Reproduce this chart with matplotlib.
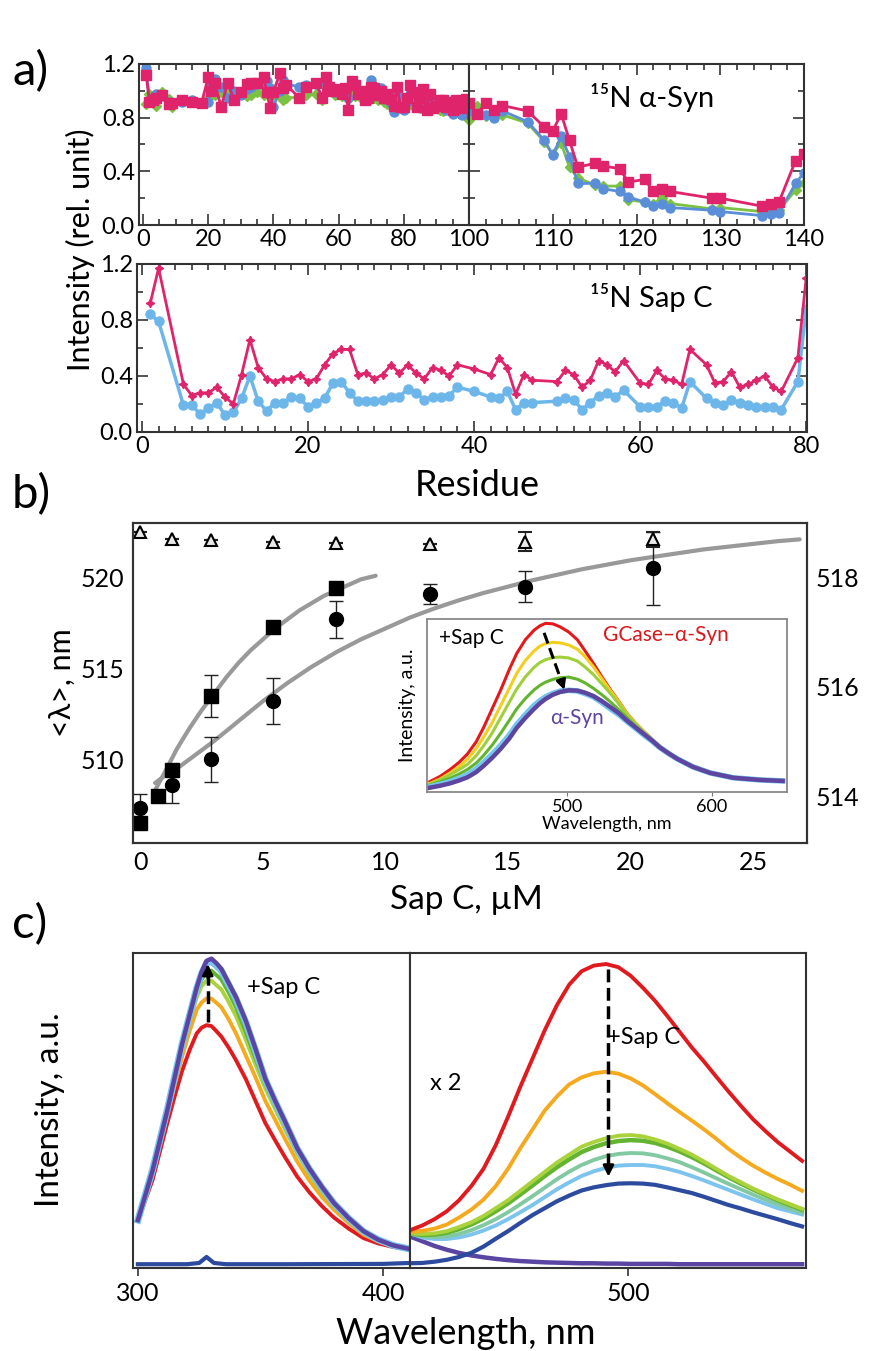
import matplotlib
matplotlib.use('Agg')
import matplotlib.pyplot as plt
from matplotlib.ticker import MultipleLocator, FormatStrFormatter

plt.rcParams['font.family'] = ['Lato', 'DejaVu Sans']

# ---------------- a) 15N alpha-Syn intensities ----------------
res_syn = [1, 2, 3, 4, 6, 8, 9, 12, 15, 18,
           20, 21, 22, 24, 26, 28, 30, 32, 33, 35,
           37, 38, 39, 40, 42, 43, 44, 48, 50, 53,
           55, 56, 57, 58, 59, 61, 62, 63, 64, 65,
           66, 67, 68, 69, 70, 71, 72, 73, 74, 75,
           76, 77, 78, 79, 80, 81, 82, 83, 84, 85,
           86, 87, 88, 89, 90, 91, 92, 93, 94, 95,
           96, 97, 98,
           99, 100, 101, 102, 103, 104, 107, 109, 110, 111,
           112, 113, 115, 116, 118, 119, 121, 122, 123, 124,
           129, 130, 135, 136, 137, 139, 140]
syn_blue = [1.17, 0.92, 0.95, 0.98, 0.96, 0.92, 0.90, 0.92, 0.93, 0.91,
            0.92, 1.04, 1.09, 1.03, 0.95, 1.00, 0.97, 1.01, 1.03, 1.05,
            1.04, 1.07, 1.02, 0.88, 1.00, 1.08, 1.05, 1.03, 1.04, 1.05,
            0.95, 1.06, 1.02, 1.02, 0.99, 0.98, 1.00, 0.95, 1.07, 1.05,
            1.00, 0.98, 0.95, 0.93, 1.08, 1.00, 0.97, 1.02, 0.94, 0.96,
            0.91, 0.84, 0.96, 0.88, 0.86, 0.92, 0.98, 0.96, 0.90, 0.92,
            0.96, 0.86, 0.95, 0.89, 0.88, 0.90, 0.91, 0.86, 0.89, 0.83,
            0.90, 0.88, 0.82,
            0.88, 0.85, 0.83, 0.82, 0.80, 0.85, 0.77, 0.63, 0.52, 0.66,
            0.51, 0.31, 0.31, 0.27, 0.25, 0.21, 0.17, 0.14, 0.16, 0.13,
            0.11, 0.10, 0.07, 0.08, 0.09, 0.31, 0.39]
syn_green = [0.90, 0.98, 0.93, 0.89, 0.99, 0.94, 0.88, 0.93, 0.92, 0.91,
             0.95, 0.98, 0.97, 0.99, 1.00, 0.97, 0.98, 0.96, 0.97, 0.99,
             0.97, 1.00, 0.98, 0.97, 0.96, 0.93, 0.95, 0.95, 0.97, 0.98,
             0.93, 1.03, 1.00, 0.99, 0.97, 0.96, 0.99, 0.98, 0.97, 0.96,
             0.99, 0.95, 0.94, 0.96, 0.98, 0.95, 0.93, 0.94, 0.92, 0.90,
             0.93, 0.89, 0.92, 0.90, 0.88, 0.91, 0.90, 0.88, 0.89, 0.87,
             0.89, 0.86, 0.88, 0.90, 0.87, 0.86, 0.85, 0.88, 0.86, 0.87,
             0.84, 0.89, 0.90,
             0.83, 0.78, 0.89, 0.81, 0.81, 0.82, 0.76, 0.62, 0.53, 0.61,
             0.43, 0.35, 0.30, 0.29, 0.29, 0.19, 0.17, 0.16, 0.20, 0.16,
             0.12, 0.13, 0.10, 0.11, 0.11, 0.26, 0.31]
syn_magenta = [1.12, 0.92, 0.93, 0.95, 0.97, 0.90, 0.91, 0.93, 0.92, 0.91,
               1.10, 1.00, 1.06, 0.88, 1.06, 0.93, 0.99, 1.05, 1.06, 1.06,
               1.10, 0.99, 0.87, 0.99, 1.13, 1.02, 1.04, 0.95, 1.03, 1.06,
               0.95, 1.10, 1.03, 1.00, 1.01, 0.98, 1.02, 0.86, 1.07, 1.04,
               0.98, 1.00, 0.93, 0.95, 1.03, 1.02, 0.97, 1.00, 0.95, 0.98,
               0.94, 0.89, 1.03, 0.88, 0.88, 0.95, 1.04, 0.99, 0.88, 0.95,
               1.01, 0.86, 0.98, 0.87, 0.89, 0.93, 0.93, 0.88, 0.92, 0.86,
               0.93, 0.90, 0.87,
               0.94, 0.91, 0.83, 0.91, 0.86, 0.89, 0.85, 0.73, 0.70, 0.83,
               0.63, 0.43, 0.46, 0.44, 0.42, 0.32, 0.34, 0.25, 0.27, 0.25,
               0.20, 0.20, 0.14, 0.16, 0.17, 0.48, 0.53]

# ---------------- a) 15N Sap C intensities ----------------
res_sap = [1, 2, 5, 6, 7, 8, 9, 10, 11, 12,
           13, 14, 15, 16, 17, 18, 19, 20, 21, 22,
           23, 24, 25, 26, 27, 28, 29, 30, 31, 32,
           33, 34, 35, 36, 37, 38, 40, 42, 43, 44,
           45, 46, 47, 50, 51, 52, 53, 54, 55, 56,
           57, 58, 60, 61, 62, 63, 64, 65, 66, 68,
           69, 70, 71, 72, 73, 74, 75, 76, 77, 79, 80]
sap_magenta = [0.92, 1.17, 0.34, 0.26, 0.28, 0.28, 0.32, 0.25, 0.20, 0.41,
               0.66, 0.46, 0.38, 0.36, 0.38, 0.38, 0.41, 0.36, 0.38, 0.48,
               0.56, 0.59, 0.59, 0.41, 0.42, 0.38, 0.41, 0.48, 0.42, 0.48,
               0.42, 0.38, 0.46, 0.44, 0.40, 0.48, 0.45, 0.41, 0.53, 0.46,
               0.27, 0.41, 0.37, 0.36, 0.44, 0.41, 0.32, 0.37, 0.51, 0.48,
               0.43, 0.51, 0.35, 0.34, 0.44, 0.38, 0.37, 0.34, 0.59, 0.48,
               0.35, 0.36, 0.43, 0.32, 0.34, 0.37, 0.40, 0.32, 0.29, 0.53, 1.10]
sap_blue = [0.84, 0.79, 0.19, 0.19, 0.13, 0.17, 0.21, 0.12, 0.14, 0.24,
            0.40, 0.22, 0.15, 0.21, 0.21, 0.25, 0.24, 0.18, 0.21, 0.24,
            0.35, 0.36, 0.28, 0.22, 0.22, 0.22, 0.23, 0.25, 0.25, 0.31,
            0.28, 0.23, 0.25, 0.25, 0.26, 0.32, 0.29, 0.25, 0.24, 0.29,
            0.16, 0.21, 0.21, 0.22, 0.24, 0.23, 0.16, 0.21, 0.26, 0.28,
            0.25, 0.30, 0.18, 0.18, 0.18, 0.22, 0.21, 0.17, 0.36, 0.24,
            0.21, 0.19, 0.23, 0.21, 0.19, 0.18, 0.18, 0.18, 0.16, 0.36, 0.88]

# ---------------- b) mean wavelength vs Sap C ----------------
conc_sq = [0, 0.7, 1.3, 2.9, 5.4, 8.0]
lam_sq = [506.5, 508.0, 509.4, 513.5, 517.3, 519.4]
err_sq = [0, 0, 0, 1.15, 0, 0]
conc_ci = [0, 1.3, 2.9, 5.4, 8.0, 11.8, 15.7, 20.9]
lam_ci = [507.3, 508.6, 510.0, 513.2, 517.7, 519.1, 519.5, 520.5]
err_ci = [0.8, 1.0, 1.25, 1.25, 1.0, 0.55, 0.85, 2.0]
conc_tr = [0, 1.3, 2.9, 5.4, 8.0, 11.8, 15.7, 20.9]
lam_tr = [518.83, 518.70, 518.68, 518.66, 518.64, 518.62, 518.66, 518.70]
err_tr = [0, 0, 0, 0, 0, 0, 0.18, 0.14]
fit_sq_x = [0.6, 1.0, 1.5, 2.0, 2.5, 3.0, 3.5, 4.0, 4.5, 5.0,
            5.5, 6.0, 6.5, 7.0, 7.5, 8.0, 8.5, 9.0, 9.6]
fit_sq_y = [508.3, 509.3, 510.6, 511.7, 512.7, 513.6, 514.5, 515.3, 516.0, 516.6,
            517.2, 517.7, 518.2, 518.6, 519.0, 519.3, 519.6, 519.9, 520.1]
fit_ci_x = [0.6, 1.0, 1.5, 2.0, 2.5, 3.0, 3.5, 4.0, 5.0, 6.0,
            7.0, 8.0, 9.0, 10.0, 11.0, 12.0, 13.0, 14.0, 15.0, 16.0,
            17.0, 18.0, 19.0, 20.0, 21.0, 22.0, 23.0, 24.0, 25.0, 26.0, 26.9]
fit_ci_y = [508.7, 509.1, 509.5, 510.0, 510.5, 511.0, 511.55, 512.1, 513.2, 514.2,
            515.1, 515.9, 516.6, 517.2, 517.8, 518.3, 518.75, 519.15, 519.5, 519.85,
            520.15, 520.45, 520.7, 520.95, 521.15, 521.35, 521.55, 521.7, 521.85, 522.0, 522.1]

# inset spectra (normalised intensity)
wl_in = [405, 412, 419, 425, 431, 437, 442, 448, 454, 460,
         465, 471, 477, 481, 485, 490, 495, 501, 507, 512,
         518, 524, 530, 536, 541, 547, 553, 559, 564, 570,
         576, 587, 599, 615, 633, 649]
in_red = [0.06, 0.09, 0.13, 0.17, 0.22, 0.29, 0.37, 0.48, 0.59, 0.71,
          0.80, 0.88, 0.935, 0.96, 0.975, 0.972, 0.955, 0.925, 0.88, 0.82,
          0.745, 0.665, 0.59, 0.52, 0.458, 0.40, 0.35, 0.303, 0.265, 0.228,
          0.195, 0.147, 0.11, 0.082, 0.07, 0.064]
in_yellow = [0.05, 0.075, 0.11, 0.145, 0.19, 0.25, 0.315, 0.40, 0.50, 0.60,
             0.685, 0.76, 0.815, 0.843, 0.858, 0.865, 0.862, 0.85, 0.825, 0.785,
             0.725, 0.655, 0.585, 0.518, 0.456, 0.40, 0.35, 0.303, 0.265, 0.228,
             0.195, 0.147, 0.11, 0.082, 0.07, 0.064]
in_lgreen = [0.045, 0.07, 0.10, 0.128, 0.16, 0.21, 0.265, 0.34, 0.43, 0.52,
             0.595, 0.665, 0.72, 0.748, 0.765, 0.777, 0.78, 0.775, 0.757, 0.725,
             0.68, 0.625, 0.568, 0.506, 0.448, 0.395, 0.347, 0.302, 0.264, 0.228,
             0.195, 0.147, 0.11, 0.082, 0.07, 0.064]
in_green = [0.04, 0.058, 0.08, 0.103, 0.13, 0.167, 0.21, 0.27, 0.34, 0.415,
            0.48, 0.54, 0.59, 0.616, 0.635, 0.651, 0.66, 0.664, 0.652, 0.632,
            0.60, 0.562, 0.52, 0.473, 0.43, 0.383, 0.34, 0.298, 0.262, 0.227,
            0.195, 0.147, 0.11, 0.082, 0.07, 0.064]
in_lblue = [0.03, 0.044, 0.06, 0.078, 0.10, 0.133, 0.17, 0.218, 0.27, 0.33,
            0.39, 0.447, 0.50, 0.527, 0.55, 0.57, 0.583, 0.588, 0.584, 0.57,
            0.55, 0.517, 0.48, 0.445, 0.41, 0.37, 0.33, 0.292, 0.257, 0.223,
            0.192, 0.145, 0.11, 0.082, 0.07, 0.064]
in_purple = [0.025, 0.036, 0.05, 0.066, 0.085, 0.115, 0.15, 0.197, 0.25, 0.31,
             0.37, 0.428, 0.48, 0.512, 0.538, 0.562, 0.578, 0.588, 0.586, 0.575,
             0.555, 0.525, 0.49, 0.453, 0.415, 0.375, 0.335, 0.295, 0.258, 0.224,
             0.192, 0.145, 0.11, 0.082, 0.07, 0.064]

# ---------------- c) emission spectra ----------------
wl_c1 = [300, 303, 306, 309, 312, 315, 318, 321, 324, 326,
         328, 330, 332, 334, 337, 340, 344, 348, 352, 356,
         360, 365, 370, 375, 380, 386, 392, 398, 404, 411]
c1_red = [0.15, 0.215, 0.28, 0.37, 0.46, 0.545, 0.625, 0.69, 0.745, 0.763,
          0.771, 0.768, 0.752, 0.735, 0.70, 0.66, 0.60, 0.53, 0.46, 0.405,
          0.352, 0.29, 0.24, 0.197, 0.16, 0.125, 0.095, 0.078, 0.067, 0.058]
c1_orange = [0.15, 0.225, 0.30, 0.395, 0.49, 0.58, 0.67, 0.75, 0.82, 0.843,
             0.856, 0.855, 0.842, 0.828, 0.79, 0.745, 0.675, 0.605, 0.53, 0.47,
             0.41, 0.338, 0.277, 0.226, 0.185, 0.143, 0.106, 0.085, 0.07, 0.058]
c1_ygreen = [0.152, 0.228, 0.305, 0.40, 0.495, 0.592, 0.69, 0.78, 0.86, 0.895,
             0.912, 0.912, 0.898, 0.885, 0.845, 0.80, 0.725, 0.645, 0.57, 0.505,
             0.44, 0.364, 0.298, 0.243, 0.196, 0.151, 0.111, 0.088, 0.072, 0.059]
c1_green = [0.152, 0.23, 0.308, 0.404, 0.50, 0.60, 0.70, 0.79, 0.875, 0.915,
            0.942, 0.944, 0.93, 0.916, 0.875, 0.828, 0.75, 0.665, 0.585, 0.518,
            0.452, 0.372, 0.305, 0.249, 0.201, 0.155, 0.114, 0.089, 0.072, 0.06]
c1_lblue = [0.152, 0.232, 0.312, 0.408, 0.503, 0.607, 0.71, 0.80, 0.888, 0.935,
            0.968, 0.973, 0.96, 0.944, 0.90, 0.855, 0.78, 0.69, 0.597, 0.528,
            0.462, 0.378, 0.313, 0.256, 0.205, 0.157, 0.116, 0.09, 0.072, 0.06]
c1_purple = [0.152, 0.23, 0.31, 0.405, 0.50, 0.605, 0.71, 0.80, 0.89, 0.94,
             0.975, 0.982, 0.968, 0.95, 0.905, 0.86, 0.785, 0.695, 0.60, 0.53,
             0.465, 0.38, 0.315, 0.258, 0.206, 0.158, 0.117, 0.09, 0.072, 0.06]
wl_base = [300, 320, 325, 328, 331, 336, 360, 400, 411]
c1_dblue = [0.012, 0.012, 0.016, 0.035, 0.016, 0.012, 0.012, 0.013, 0.016]

wl_c2 = [411, 416, 421, 426, 431, 436, 441, 446, 451, 456,
         461, 466, 471, 476, 481, 486, 491, 496, 501, 506,
         511, 516, 521, 526, 531, 536, 541, 546, 551, 556,
         561, 566, 571]
c2_red = [0.12, 0.135, 0.155, 0.18, 0.215, 0.26, 0.315, 0.39, 0.48, 0.575,
          0.665, 0.755, 0.835, 0.90, 0.942, 0.96, 0.965, 0.955, 0.928, 0.89,
          0.848, 0.80, 0.75, 0.70, 0.655, 0.607, 0.56, 0.515, 0.472, 0.435,
          0.40, 0.37, 0.34]
c2_orange = [0.115, 0.118, 0.125, 0.138, 0.16, 0.185, 0.217, 0.26, 0.315, 0.38,
             0.44, 0.50, 0.545, 0.583, 0.605, 0.618, 0.623, 0.617, 0.602, 0.58,
             0.552, 0.523, 0.495, 0.468, 0.44, 0.41, 0.378, 0.35, 0.325, 0.303,
             0.283, 0.265, 0.245]
c2_ygreen = [0.11, 0.108, 0.11, 0.117, 0.13, 0.145, 0.165, 0.19, 0.215, 0.245,
             0.275, 0.305, 0.335, 0.36, 0.385, 0.40, 0.412, 0.42, 0.422, 0.418,
             0.408, 0.395, 0.378, 0.36, 0.338, 0.315, 0.292, 0.272, 0.252, 0.235,
             0.218, 0.203, 0.188]
c2_green = [0.11, 0.105, 0.106, 0.112, 0.123, 0.138, 0.157, 0.18, 0.205, 0.233,
            0.262, 0.292, 0.32, 0.345, 0.368, 0.384, 0.396, 0.403, 0.406, 0.404,
            0.397, 0.385, 0.37, 0.352, 0.332, 0.31, 0.288, 0.268, 0.249, 0.232,
            0.215, 0.20, 0.185]
c2_teal = [0.11, 0.10, 0.098, 0.10, 0.108, 0.12, 0.136, 0.155, 0.177, 0.202,
           0.228, 0.255, 0.282, 0.306, 0.327, 0.343, 0.355, 0.362, 0.365, 0.364,
           0.358, 0.348, 0.336, 0.32, 0.303, 0.285, 0.267, 0.25, 0.233, 0.217,
           0.202, 0.188, 0.175]
c2_lblue = [0.11, 0.097, 0.092, 0.092, 0.097, 0.106, 0.119, 0.135, 0.155, 0.177,
            0.20, 0.225, 0.25, 0.272, 0.292, 0.307, 0.318, 0.325, 0.327, 0.327,
            0.323, 0.315, 0.305, 0.292, 0.278, 0.263, 0.248, 0.233, 0.218, 0.204,
            0.19, 0.18, 0.17]
c2_dblue = [0.015, 0.016, 0.02, 0.026, 0.035, 0.048, 0.068, 0.093, 0.117, 0.143,
            0.168, 0.19, 0.212, 0.23, 0.246, 0.256, 0.263, 0.268, 0.269, 0.268,
            0.264, 0.256, 0.247, 0.238, 0.226, 0.213, 0.20, 0.189, 0.177, 0.166,
            0.155, 0.143, 0.132]
c2_purple = [0.10, 0.085, 0.07, 0.058, 0.048, 0.04, 0.034, 0.029, 0.025, 0.022,
             0.02, 0.018, 0.017, 0.016, 0.015, 0.015, 0.014, 0.014, 0.013, 0.013,
             0.013, 0.013, 0.012, 0.012, 0.012, 0.012, 0.012, 0.012, 0.012, 0.012,
             0.012, 0.012, 0.012]

MAG = '#e0246c'
BLUE = '#5a8ed8'
GREEN = '#7cc242'
SKY = '#6db6ea'
EDGE = '#333333'

W, H = 872.0, 1351.0


def box(x0, y0, x1, y1):
    return [x0 / W, 1 - y1 / H, (x1 - x0) / W, (y1 - y0) / H]


def frame(ax, color=EDGE, lw=1.5):
    for s in ax.spines.values():
        s.set_color(color)
        s.set_linewidth(lw)


fig = plt.figure(figsize=(8.72, 13.51), dpi=100)

# ---- panel a ----
ax1 = fig.add_axes(box(139, 64, 469, 225))
ax2 = fig.add_axes(box(469, 64, 804, 225))
ax3 = fig.add_axes(box(137, 264, 807, 432))

for ax in (ax1, ax2):
    ax.plot(res_syn, syn_green, '-D', color=GREEN, ms=5.5, lw=2)
    ax.plot(res_syn, syn_blue, '-o', color=BLUE, ms=6.5, lw=2)
    ax.plot(res_syn, syn_magenta, '-s', color=MAG, ms=6.5, lw=2)
ax3.plot(res_sap, sap_blue, '-o', color=SKY, ms=6.5, lw=2.5)
ax3.plot(res_sap, sap_magenta, '-', color=MAG, lw=2, marker=(4, 1, 0), ms=6)

ax1.set_xlim(-1.2, 100)
ax1.xaxis.set_major_locator(MultipleLocator(20))
ax1.xaxis.set_minor_locator(MultipleLocator(5))
ax2.set_xlim(100, 140)
ax2.set_xticks([100, 110, 120, 130, 140], ['', '110', '120', '130', '140'])
ax2.xaxis.set_minor_locator(MultipleLocator(2))
ax3.set_xlim(-0.6, 80.1)
ax3.xaxis.set_major_locator(MultipleLocator(20))
ax3.xaxis.set_minor_locator(MultipleLocator(2))

for ax in (ax1, ax2, ax3):
    ax.set_ylim(0, 1.2)
    ax.yaxis.set_major_locator(MultipleLocator(0.4))
    ax.yaxis.set_minor_locator(MultipleLocator(0.2))
    ax.yaxis.set_major_formatter(FormatStrFormatter('%.1f'))
    ax.tick_params(which='both', direction='in', top=True, right=True,
                   width=1.2, color=EDGE, labelsize=17, pad=3)
    ax.tick_params(which='major', length=8)
    ax.tick_params(which='minor', length=4)
    frame(ax)
ax2.tick_params(labelleft=False)

fig.text(590 / W, 1 - 97 / H, '¹⁵N α-Syn', fontsize=21, va='center')
fig.text(590 / W, 1 - 297 / H, '¹⁵N Sap C', fontsize=21, va='center')
fig.text(80 / W, 1 - 250 / H, 'Intensity (rel. unit)', rotation=90,
         fontsize=22, ha='center', va='center')
fig.text(477 / W, 1 - 485 / H, 'Residue', fontsize=26, ha='center', va='center')
fig.text(12 / W, 1 - 72 / H, 'a)', fontsize=34, va='center')

# ---- panel b ----
axb = fig.add_axes(box(133, 523, 807, 843))
axb.plot(fit_sq_x, fit_sq_y, color='#999999', lw=3, solid_capstyle='round')
axb.plot(fit_ci_x, fit_ci_y, color='#999999', lw=3, solid_capstyle='round')
axb.errorbar(conc_ci, lam_ci, yerr=err_ci, fmt='o', color='black', ms=10,
             ecolor='#222222', elinewidth=1, capsize=5)
axb.errorbar(conc_sq, lam_sq, yerr=err_sq, fmt='s', color='black', ms=10,
             ecolor='#222222', elinewidth=1, capsize=5)
axb.set_xlim(-0.3, 27.2)
axb.set_ylim(505.4, 523)
axb.set_xticks([0, 5, 10, 15, 20, 25])
axb.set_yticks([510, 515, 520])
axb.tick_params(length=0, labelsize=18, pad=6)
frame(axb)

axb2 = axb.twinx()
axb2.errorbar(conc_tr, lam_tr, yerr=err_tr, fmt='^', mfc='#e8e8e8', mec='black',
              mew=1.5, ms=9, ecolor='#222222', elinewidth=1, capsize=5)
axb2.set_ylim(513.14, 519.0)
axb2.set_yticks([514, 516, 518])
axb2.tick_params(length=0, labelsize=18, pad=6)
frame(axb2)

fig.text(62 / W, 1 - 683 / H, '<λ>, nm', rotation=90, fontsize=22,
         ha='center', va='center')
fig.text(466 / W, 1 - 900 / H, 'Sap C, µM', fontsize=24, ha='center', va='center')
fig.text(12 / W, 1 - 495 / H, 'b)', fontsize=34, va='center')

# inset
axi = fig.add_axes(box(427, 619, 787, 792))
axi.plot(wl_in, in_red, color='#e3191c', lw=2.2)
axi.plot(wl_in, in_yellow, color='#f2cf1d', lw=2.2)
axi.plot(wl_in, in_lgreen, color='#9fcf3a', lw=2.2)
axi.plot(wl_in, in_green, color='#63b42e', lw=2.2)
axi.plot(wl_in, in_lblue, color='#74c6ee', lw=4)
axi.plot(wl_in, in_purple, color='#5d45a0', lw=3.2)
axi.set_xlim(403, 652)
axi.set_ylim(0, 1.0)
axi.set_yticks([])
axi.set_xticks([500, 600])
axi.tick_params(labelsize=13, length=3, color='#777777', pad=2)
frame(axi, '#888888', 1.3)
axi.set_xlabel('Wavelength, nm', fontsize=13, labelpad=1)
axi.set_ylabel('Intensity, a.u.', fontsize=14, labelpad=8)
axi.plot([484, 496], [0.92, 0.64], ls='--', color='black', lw=2.2)
axi.annotate('', xy=(498, 0.59), xytext=(496, 0.64),
             arrowprops=dict(arrowstyle='-|>', color='black', lw=2,
                             mutation_scale=14, shrinkA=0, shrinkB=0))
axi.text(411, 0.89, '+Sap C', fontsize=15, va='center')
axi.text(525, 0.905, 'GCase–α-Syn', fontsize=15, va='center', color='#d7191c')
axi.text(488, 0.43, 'α-Syn', fontsize=15, va='center', color='#5d45a0')

# ---- panel c ----
axc1 = fig.add_axes(box(133, 953, 410, 1268))
axc2 = fig.add_axes(box(410, 953, 806, 1268))

axc1.plot(wl_base, c1_dblue, color='#2c4a9e', lw=3)
axc1.plot(wl_c1, c1_red, color='#e01b1f', lw=2.8)
axc1.plot(wl_c1, c1_orange, color='#f4a91e', lw=2.8)
axc1.plot(wl_c1, c1_ygreen, color='#a9d23c', lw=2.8)
axc1.plot(wl_c1, c1_green, color='#63b430', lw=2.8)
axc1.plot(wl_c1, c1_lblue, color='#7cc4ee', lw=5)
axc1.plot(wl_c1, c1_purple, color='#5a45a2', lw=3.2)

axc2.plot(wl_c2, c2_purple, color='#5a45a2', lw=3.2)
axc2.plot(wl_c2, c2_dblue, color='#2c4a9e', lw=3)
axc2.plot(wl_c2, c2_lblue, color='#7cc4ee', lw=2.8)
axc2.plot(wl_c2, c2_teal, color='#82c9a2', lw=2.8)
axc2.plot(wl_c2, c2_green, color='#63b430', lw=3.2)
axc2.plot(wl_c2, c2_ygreen, color='#a9d23c', lw=2.8)
axc2.plot(wl_c2, c2_orange, color='#f4a91e', lw=2.8)
axc2.plot(wl_c2, c2_red, color='#e01b1f', lw=2.8)

axc1.set_xlim(298, 411)
axc2.set_xlim(411, 572.6)
axc1.set_xticks([300, 400])
axc2.set_xticks([500])
for ax in (axc1, axc2):
    ax.set_ylim(0, 1.0)
    ax.set_yticks([])
    ax.tick_params(direction='out', length=6, width=1.2, color=EDGE,
                   labelsize=18, pad=4)
    frame(ax)

axc1.plot([328.5, 328.5], [0.78, 0.93], ls='--', color='black', lw=2.5)
axc1.annotate('', xy=(328.5, 0.965), xytext=(328.5, 0.92),
              arrowprops=dict(arrowstyle='-|>', color='black', lw=2,
                              mutation_scale=16, shrinkA=0, shrinkB=0))
axc1.text(344.5, 0.892, '+Sap C', fontsize=17, va='center')

axc2.plot([492, 492], [0.95, 0.33], ls='--', color='black', lw=2.5)
axc2.annotate('', xy=(492, 0.29), xytext=(492, 0.34),
              arrowprops=dict(arrowstyle='-|>', color='black', lw=2,
                              mutation_scale=16, shrinkA=0, shrinkB=0))
axc2.text(491.4, 0.733, '+Sap C', fontsize=17, va='center')
axc2.text(419, 0.587, 'x 2', fontsize=17, va='center')

fig.text(50 / W, 1 - 1110 / H, 'Intensity, a.u.', rotation=90, fontsize=24,
         ha='center', va='center')
fig.text(466 / W, 1 - 1333 / H, 'Wavelength, nm', fontsize=26,
         ha='center', va='center')
fig.text(12 / W, 1 - 925 / H, 'c)', fontsize=34, va='center')

fig.savefig('out.png', dpi=100)
